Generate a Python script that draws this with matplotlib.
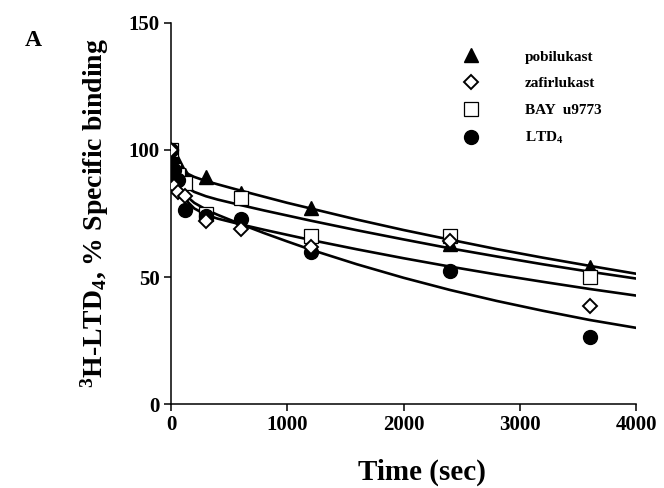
import matplotlib
matplotlib.use("Agg")
from matplotlib import pyplot as plt

# Fonts: bold Times-like serif everywhere
plt.rcParams['font.family'] = ['Liberation Serif', 'DejaVu Serif']
plt.rcParams['font.weight'] = 'bold'

# Measured binding (% of specific binding) vs time (sec)
times = [0, 30, 60, 120, 300, 600, 1200, 2400, 3600]
pobilukast = [100, 97, 95, 90, 89.5, 83, 77, 63, 54]
zafirlukast = [100, 86, 83.5, 82, 72, 69, 62, 64, 38.5]
bay_u9773 = [100, 92, 90, 87, 75, 81, 66, 66, 50]
ltd4 = [100, 92, 88, 76.5, 74, 73, 60, 52.5, 26.5]

# Fitted curves
fit_times = [0, 20, 50, 100, 150, 200, 300, 400, 600, 800, 1000, 1200,
             1600, 2000, 2400, 2800, 3200, 3600, 4000]
fit_pobilukast = [100, 97.6, 94.9, 92.2, 90.5, 89.4, 87.8, 86.5, 84.0, 81.6,
                  79.2, 77.0, 72.6, 68.5, 64.7, 61.0, 57.6, 54.4, 51.3]
fit_bay = [100, 95.9, 91.5, 87.2, 84.9, 83.5, 81.8, 80.5, 78.3, 76.2,
           74.2, 72.2, 68.4, 64.8, 61.3, 58.1, 55.0, 52.1, 49.4]
fit_zafirlukast = [100, 94.9, 89.1, 82.9, 79.3, 77.0, 74.5, 73.0, 70.7, 68.6,
                   66.6, 64.6, 60.9, 57.4, 54.1, 51.0, 48.1, 45.3, 42.7]
fit_ltd4 = [100, 95.0, 89.7, 84.3, 81.2, 79.2, 76.6, 74.5, 70.8, 67.3,
            64.0, 60.8, 55.0, 49.7, 44.9, 40.6, 36.7, 33.1, 30.0]

fig = plt.figure(figsize=(6.64, 4.88), dpi=100)
ax = fig.add_axes([0.2575, 0.172, 0.7005, 0.781])

# Curves
for curve in (fit_pobilukast, fit_bay, fit_zafirlukast, fit_ltd4):
    ax.plot(fit_times, curve, color='black', lw=1.9, zorder=2)

# Data points
ax.plot(times, pobilukast, ls='none', marker='^', ms=10.5, color='black',
        label='pobilukast', zorder=3)
ax.plot(times, zafirlukast, ls='none', marker='D', ms=7.5, mfc='white',
        mec='black', mew=1.4, label='zafirlukast', zorder=4)
ax.plot(times, bay_u9773, ls='none', marker='s', ms=10, mfc='white',
        mec='black', mew=0.9, label='BAY  u9773', zorder=3)
ax.plot(times, ltd4, ls='none', marker='o', ms=10, color='black',
        label=r'LTD$\mathregular{_4}$', zorder=3)

ax.set_xlim(0, 4000)
ax.set_ylim(0, 150)
ax.set_xticks([0, 1000, 2000, 3000, 4000])
ax.set_yticks([0, 50, 100, 150])
ax.spines['top'].set_visible(False)
ax.spines['right'].set_visible(False)
ax.spines['left'].set_linewidth(1.1)
ax.spines['bottom'].set_linewidth(1.1)
ax.tick_params(direction='out', length=5, width=1.1, labelsize=15, pad=3)
for lbl in ax.get_xticklabels() + ax.get_yticklabels():
    lbl.set_fontweight('bold')

ax.set_xlabel('Time (sec)', fontsize=21, fontweight='bold')
ax.xaxis.set_label_coords(0.54, -0.142)
ax.set_ylabel(r'$\mathregular{^3}$H-LTD$\mathregular{_4}$, % Specific binding',
              fontsize=20, fontweight='bold')
ax.yaxis.set_label_coords(-0.13, 0.5)

leg = ax.legend(loc='upper left', bbox_to_anchor=(0.6, 0.965), frameon=False,
                handletextpad=3.0, labelspacing=0.85, handlelength=1.0,
                prop={'family': 'Liberation Serif', 'weight': 'bold', 'size': 11})

fig.text(0.038, 0.905, 'A', fontsize=17, fontweight='bold')

plt.savefig('out.png', dpi=100)
plt.close()
